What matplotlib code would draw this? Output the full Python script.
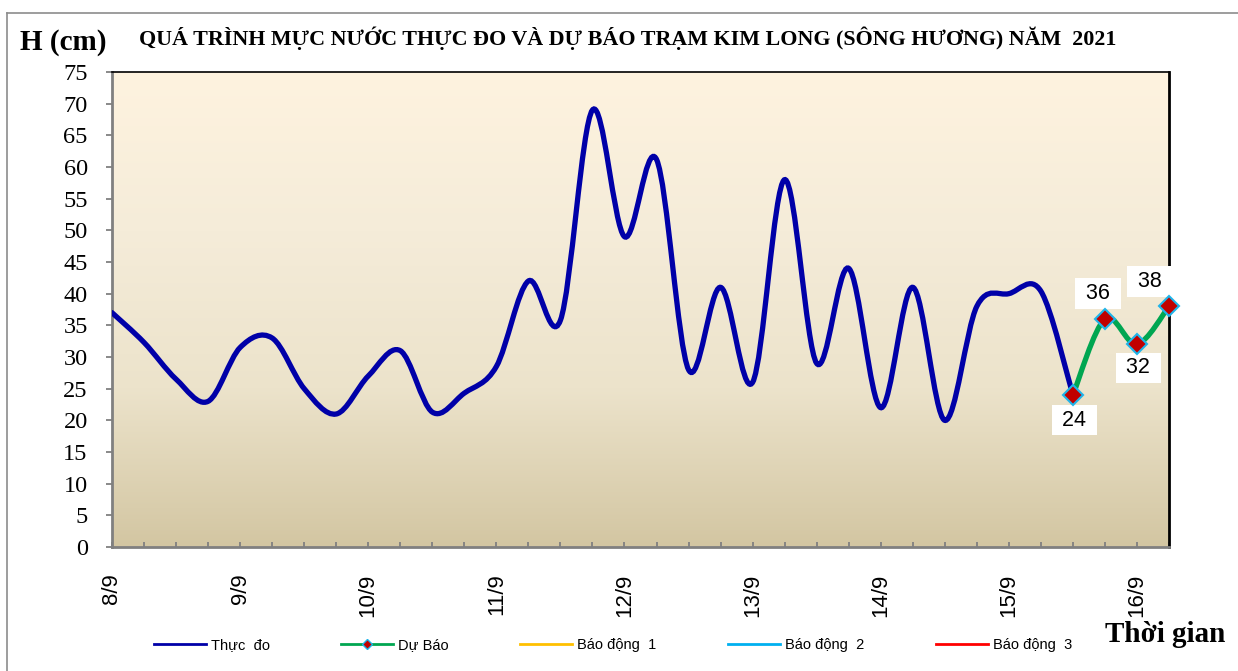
import matplotlib.pyplot as plt
import numpy as np
from matplotlib.path import Path
from matplotlib.patches import PathPatch
from matplotlib.colors import LinearSegmentedColormap
from matplotlib.lines import Line2D

# observed water level (cm), every 6 hours from 8/9 00h
observed = [37, 32.3, 26.5, 23, 31.5, 33, 25, 21, 27, 31, 21.3, 24.3, 28.5,
            42, 35.8, 69, 49, 61.2, 28, 41, 26, 58, 29, 44, 22, 41, 20,
            38, 40, 40.4, 24]
forecast = [24, 36, 32, 38]
forecast_start = 30
day_labels = ['8/9', '9/9', '10/9', '11/9', '12/9', '13/9', '14/9', '15/9', '16/9']
steps_per_day = 4

serif = 'Liberation Serif'
sans = 'Liberation Sans'


def smooth_path(xs, ys):
    # excel-style smoothed line: cubic bezier through every point
    pts = np.column_stack([xs, ys]).astype(float)
    n = len(pts)
    verts = [pts[0]]
    codes = [Path.MOVETO]
    for i in range(n - 1):
        p0 = pts[i - 1] if i > 0 else pts[i]
        p1 = pts[i]
        p2 = pts[i + 1]
        p3 = pts[i + 2] if i + 2 < n else pts[i + 1]
        c1 = p1 + (p2 - p0) / 6.0
        c2 = p2 - (p3 - p1) / 6.0
        verts += [c1, c2, p2]
        codes += [Path.CURVE4] * 3
    return Path(verts, codes)


fig = plt.figure(figsize=(12.38, 6.71), dpi=100)
fig.patch.set_facecolor('white')

# outer frame of the chart object
fig.add_artist(Line2D([7 / 1238, 1.0], [1 - 13 / 671] * 2, color='#8c8c8c', lw=1.2))
fig.add_artist(Line2D([7 / 1238] * 2, [0.0, 1 - 13 / 671], color='#8c8c8c', lw=1.2))

ax = fig.add_axes([112 / 1238, 1 - 547 / 671, (1169 - 112) / 1238, (547 - 72) / 671])
n_total = forecast_start + len(forecast) - 1
ax.set_xlim(0, n_total)
ax.set_ylim(0, 75)

# gradient background
cmap = LinearSegmentedColormap.from_list('bg', ['#d3c6a2', '#ece3cb', '#f5ecd9', '#fef3df'])
grad = np.linspace(0, 1, 256).reshape(-1, 1)
ax.imshow(grad, cmap=cmap, origin='lower', aspect='auto',
          extent=[0, n_total, 0, 75], zorder=0)

x_obs = np.arange(len(observed))
ax.add_patch(PathPatch(smooth_path(x_obs, observed), fill=False,
                       edgecolor='#0000a8', lw=3.8, zorder=3, capstyle='round'))

x_fc = np.arange(forecast_start, forecast_start + len(forecast))
ax.add_patch(PathPatch(smooth_path(x_fc, forecast), fill=False,
                       edgecolor='#00a651', lw=3.8, zorder=4, capstyle='round'))
ax.plot(x_fc, forecast, ls='none', marker='D', ms=10, mfc='#c00000',
        mec='#1fb4ea', mew=1.5, zorder=7, clip_on=False)

# data labels
offsets = [(1, -18), (-5, 18.5), (1, -17), (-14, 18)]
for x, v, off in zip(x_fc, forecast, offsets):
    ax.annotate(f' {v:g} ', (x, v), xytext=off, textcoords='offset points',
                ha='center', va='center', fontsize=15.5, family=sans,
                bbox=dict(boxstyle='square,pad=0.22', facecolor='white', edgecolor='none'),
                zorder=6, annotation_clip=False)

# axes styling
for side in ['left', 'bottom']:
    ax.spines[side].set_color('#808080')
    ax.spines[side].set_linewidth(2.0)
ax.spines['top'].set_color('black')
ax.spines['top'].set_linewidth(1.2)
ax.spines['right'].set_color('black')
ax.spines['right'].set_linewidth(2.0)

ax.set_yticks(np.arange(0, 76, 5))
ax.tick_params(axis='y', direction='out', length=4.5, width=1.3, color='#808080',
               pad=13, labelsize=17.5)
for lbl in ax.get_yticklabels():
    lbl.set_family(serif)

ax.set_xticks(np.arange(0, n_total + 1))
xl = [''] * (n_total + 1)
for i, d in enumerate(day_labels):
    xl[i * steps_per_day] = d
ax.set_xticklabels(xl, rotation=90, family=sans, fontsize=16)
ax.tick_params(axis='x', direction='in', length=3.6, width=1.3, color='#808080', pad=19)

# titles
fig.text(628 / 1238, 1 - 38 / 671,
         'QUÁ TRÌNH MỰC NƯỚC THỰC ĐO VÀ DỰ BÁO TRẠM KIM LONG (SÔNG HƯƠNG) NĂM  2021',
         ha='center', va='center', family=serif, fontweight='bold', fontsize=15.8)
fig.text(20 / 1238, 1 - 42 / 671, 'H (cm)', ha='left', va='center', family=serif,
         fontweight='bold', fontsize=21)
fig.text(1105 / 1238, 1 - 634 / 671, 'Thời gian', ha='left', va='center', family=serif,
         fontweight='bold', fontsize=21)

# legend
handles = [
    Line2D([], [], color='#0000a8', lw=2),
    Line2D([], [], color='#00a651', lw=2, marker='D', ms=5, mfc='#c00000', mec='#1fb4ea'),
    Line2D([], [], color='#ffc000', lw=2),
    Line2D([], [], color='#00b0f0', lw=2),
    Line2D([], [], color='#ff0000', lw=2),
]
labels = ['Thực  đo', 'Dự Báo', 'Báo động  1', 'Báo động  2', 'Báo động  3']
fig.legend(handles, labels, loc='center', bbox_to_anchor=(613 / 1238, 1 - 645 / 671),
           ncol=5, frameon=False, prop={'family': sans, 'size': 10.5},
           handlelength=3.56, handletextpad=0.35, columnspacing=4.9)

plt.savefig('out.png', dpi=100)
